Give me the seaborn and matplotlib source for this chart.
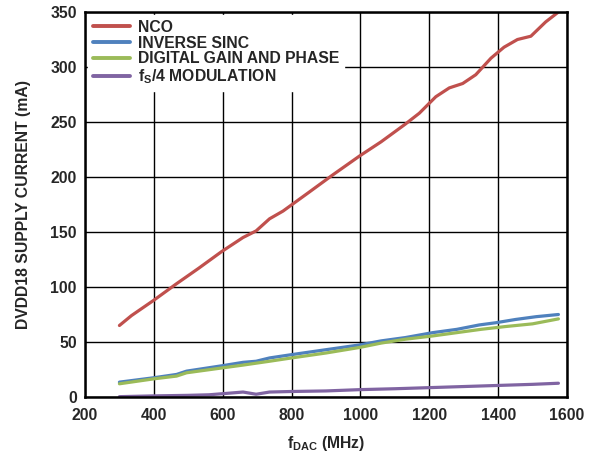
import numpy as np
import pandas as pd
import matplotlib
matplotlib.use("Agg")
import matplotlib.pyplot as plt
import seaborn as sns

# values
nco_x = [300, 335, 400, 466, 530, 596, 659, 697, 736, 775, 850, 920, 997, 1060,
         1130, 1171, 1219, 1258, 1297, 1335, 1379, 1417, 1456, 1495, 1538, 1575]
nco_y = [65, 74, 88, 103, 117, 132, 145, 151, 162, 169, 186, 202, 219, 232,
         248, 258, 273, 281, 285, 293, 308, 318, 325, 328, 341, 350]

sinc_x = [300, 400, 466, 495, 600, 659, 697, 736, 800, 900, 997, 1060, 1130,
          1210, 1280, 1345, 1393, 1451, 1510, 1575]
sinc_y = [13.5, 17.5, 20.5, 23.5, 28.5, 31.5, 32.5, 35.5, 38.5, 43, 47.3, 51, 54,
          58.5, 61.5, 65.5, 67.5, 70.5, 73, 75]

gain_x = [300, 400, 466, 495, 600, 659, 736, 800, 900, 997, 1060, 1130, 1210,
          1280, 1350, 1420, 1500, 1575]
gain_y = [12, 16.5, 19, 22, 26.5, 29, 32.5, 35.5, 40, 45, 49, 52.5, 55.5,
          58.5, 61.5, 64, 66.5, 71]

mod_x = [300, 400, 500, 560, 620, 659, 697, 736, 800, 900, 1000, 1100, 1200,
         1300, 1400, 1500, 1575]
mod_y = [0.3, 1, 1.5, 2, 3.5, 4.5, 2.5, 4.5, 5, 5.5, 6.7, 7.5, 8.5, 9.5,
         10.5, 11.5, 12.5]

labels = ["NCO", "INVERSE SINC", "DIGITAL GAIN AND PHASE",
          r"f$_\mathbf{S}$/4 MODULATION"]
colors = ["#C0504D", "#4F81BD", "#9BBB59", "#8064A2"]

frames = []
for lab, xs, ys in zip(labels, [nco_x, sinc_x, gain_x, mod_x],
                       [nco_y, sinc_y, gain_y, mod_y]):
    frames.append(pd.DataFrame({"f": xs, "I": ys, "series": lab}))
df = pd.concat(frames, ignore_index=True)

sns.set_style("white")
plt.rcParams["font.family"] = ["Liberation Sans", "DejaVu Sans"]
plt.rcParams["font.weight"] = "bold"
plt.rcParams["mathtext.fontset"] = "custom"
plt.rcParams["mathtext.rm"] = "Liberation Sans:bold"
plt.rcParams["mathtext.bf"] = "Liberation Sans:bold"
plt.rcParams["mathtext.it"] = "Liberation Sans:bold"

FS = 11.3

fig = plt.figure(figsize=(5.89, 4.55), dpi=100)
ax = fig.add_axes([0.1443, 0.1275, 0.8184, 0.8461])

sns.lineplot(data=df, x="f", y="I", hue="series", palette=colors,
             hue_order=labels, linewidth=2.3, sort=False, ax=ax)

ax.set_xlim(200, 1600)
ax.set_ylim(0, 350)
ax.set_xticks(np.arange(200, 1601, 200))
ax.set_yticks(np.arange(0, 351, 50))
ax.grid(True, color="black", linewidth=1.0)
ax.set_axisbelow(True)
for s in ax.spines.values():
    s.set_color("black")
    s.set_linewidth(1.8)
ax.tick_params(axis="x", length=0, labelsize=FS, pad=8)
ax.tick_params(axis="y", length=0, labelsize=FS, pad=6)
for t in ax.get_xticklabels() + ax.get_yticklabels():
    t.set_fontweight("bold")

ax.set_xlabel(r"f$_\mathbf{DAC}$ (MHz)", fontsize=FS, fontweight="bold",
              labelpad=8)
ax.set_ylabel("DVDD18 SUPPLY CURRENT (mA)", fontsize=FS, fontweight="bold",
              labelpad=14)

leg = ax.legend(loc="upper left", frameon=True, fancybox=False,
                handlelength=2.35, labelspacing=0.05, borderpad=0.3,
                handletextpad=0.5, borderaxespad=0.2,
                prop={"weight": "bold", "size": FS})
leg.get_frame().set_facecolor("white")
leg.get_frame().set_edgecolor("white")
leg.get_frame().set_alpha(1.0)
for line in leg.get_lines():
    line.set_linewidth(2.8)

fig.savefig("out.png", dpi=100)
